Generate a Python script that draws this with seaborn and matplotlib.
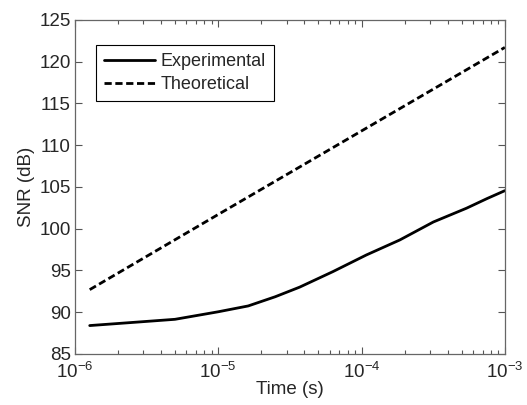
import numpy as np
import matplotlib
matplotlib.use("Agg")
import matplotlib.pyplot as plt
from matplotlib.ticker import LogLocator, NullFormatter
import pandas as pd
import seaborn as sns

# data
exp_time = [1.27e-6, 2.9e-6, 5.0e-6, 1.0e-5, 1.62e-5, 2.5e-5, 3.7e-5, 6.3e-5,
            1.08e-4, 1.85e-4, 3.17e-4, 5.4e-4, 7.5e-4, 1.0e-3]
exp_snr = [88.4, 88.85, 89.15, 90.05, 90.75, 91.85, 93.0, 94.85,
           96.85, 98.65, 100.8, 102.45, 103.6, 104.55]
theo_time = [1.27e-6, 1e-5, 1e-4, 1e-3]
theo_snr = [92.7, 101.7, 111.7, 121.7]

sns.set_style("ticks")
plt.rcParams["font.family"] = ["Liberation Sans", "DejaVu Sans"]
plt.rcParams["mathtext.default"] = "regular"
plt.rcParams["xtick.direction"] = "in"
plt.rcParams["ytick.direction"] = "in"

df = pd.concat([
    pd.DataFrame({"t": exp_time, "snr": exp_snr, "kind": "Experimental"}),
    pd.DataFrame({"t": theo_time, "snr": theo_snr, "kind": "Theoretical"}),
])

fig = plt.figure(figsize=(5.27, 4.05), dpi=100)
ax = fig.add_axes([0.142, 0.126, 0.816, 0.825])
sns.lineplot(data=df, x="t", y="snr", style="kind", color="black",
             dashes={"Experimental": "", "Theoretical": (2.6, 1.3)},
             linewidth=2.0, ax=ax)
ax.set_xscale("log")
ax.set_xlim(1e-6, 1e-3)
ax.set_ylim(85, 125)
ax.set_yticks(np.arange(85, 126, 5))
ax.xaxis.set_minor_locator(LogLocator(base=10, subs=np.arange(2, 10), numticks=20))
ax.xaxis.set_minor_formatter(NullFormatter())
ax.set_xlabel("Time (s)", fontsize=13.5, labelpad=-1)
ax.set_ylabel("SNR (dB)", fontsize=13.5, labelpad=3)
ax.tick_params(which="both", top=True, right=True, labelsize=13.5, color="#555555")
ax.tick_params(which="major", length=5, width=0.8)
ax.tick_params(which="minor", length=3, width=0.8)
ax.tick_params(axis="x", pad=6)
ax.tick_params(axis="y", pad=3)
for s in ax.spines.values():
    s.set_color("#666666")
    s.set_linewidth(0.9)

leg = ax.legend(loc="upper left", bbox_to_anchor=(0.05, 0.925), fontsize=13,
                frameon=True, fancybox=False, edgecolor="black", framealpha=1,
                handlelength=2.8, borderpad=0.45, labelspacing=0.35, handletextpad=0.3,
                borderaxespad=0)
leg.get_frame().set_linewidth(0.8)
leg.set_title(None)

fig.savefig("out.png", dpi=100)
